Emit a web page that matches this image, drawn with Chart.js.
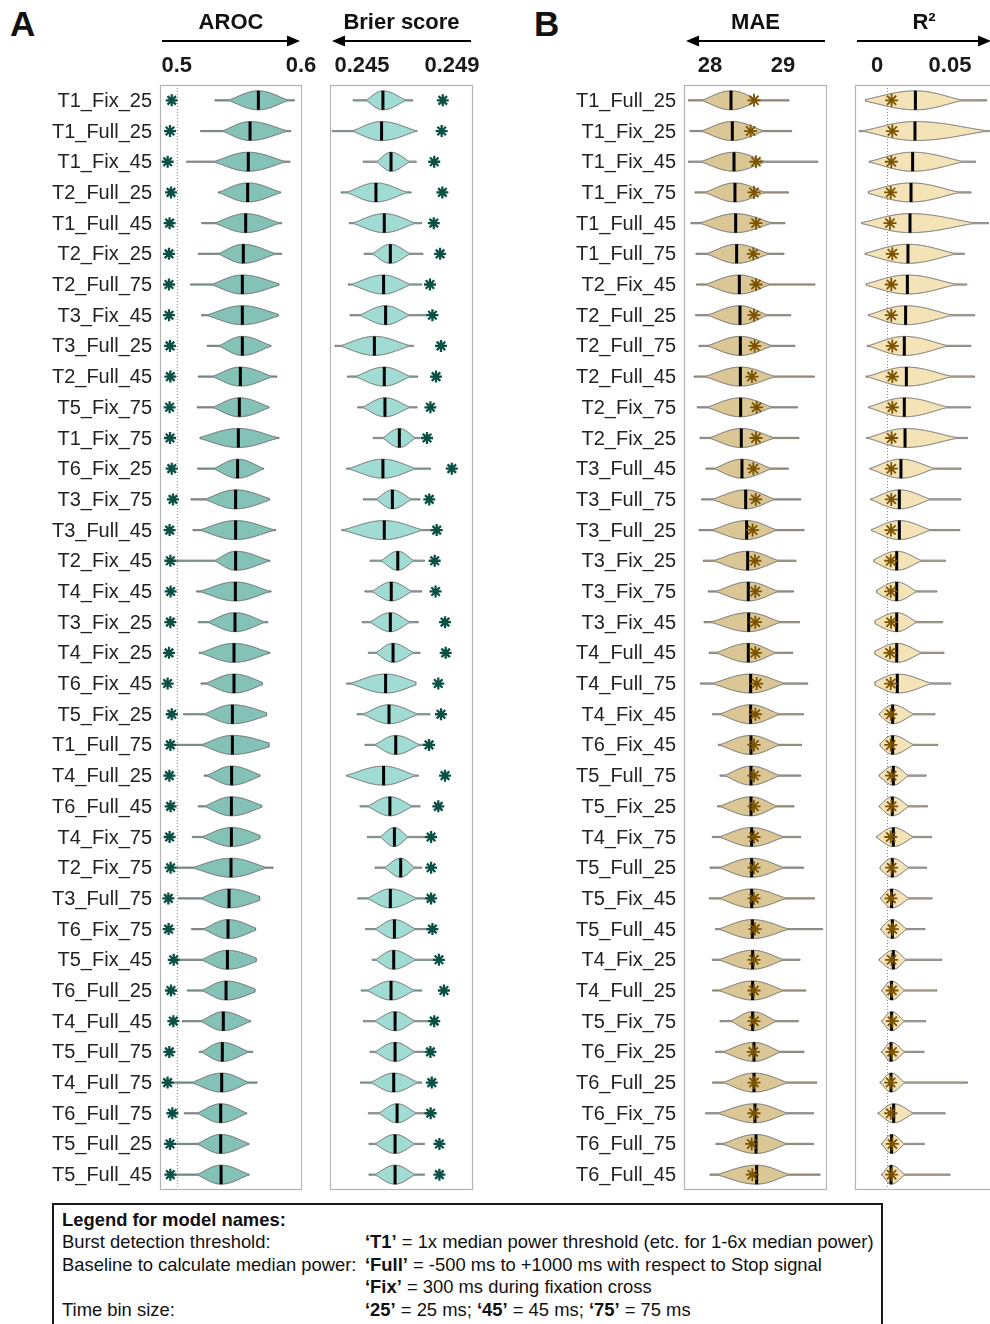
<!DOCTYPE html>
<html>
<head>
<meta charset="utf-8">
<script src="https://cdn.jsdelivr.net/npm/chart.js@4.4.1/dist/chart.umd.min.js"></script>
<style>
  body { margin: 0; background: #fff; }
  #page { position: relative; width: 990px; height: 1324px; overflow: hidden;
          font-family: 'Liberation Sans', Arial, sans-serif; color: #111; }
  canvas { position: absolute; top: 0; }
  .letter { position: absolute; top: 6px; font-weight: bold; font-size: 35px; line-height: 35px; }
  #legend { position: absolute; left: 52px; top: 1203px; width: 831px; height: 140px; box-sizing: border-box;
            border: 2px solid #1a1a1a; padding: 4px 8px; font-size: 18.4px; line-height: 22.4px; color: #111; }
  #legend .row { display: flex; white-space: nowrap; }
  #legend .k { width: 303px; flex: none; }
</style>
</head>
<body>
<div id="page">
  <div class="letter" style="left:10px">A</div>
  <div class="letter" style="left:534px">B</div>
  <canvas id="aroc" width="330" height="1195" style="left:0"></canvas>
  <canvas id="brier" width="175" height="1195" style="left:315px"></canvas>
  <canvas id="mae" width="345" height="1195" style="left:500px"></canvas>
  <canvas id="r2" width="160" height="1195" style="left:840px"></canvas>
  <div id="legend">
    <div class="row"><b>Legend for model names:</b></div>
    <div class="row"><span class="k">Burst detection threshold:</span><span><b>‘T1’</b> = 1x median power threshold (etc. for 1-6x median power)</span></div>
    <div class="row"><span class="k">Baseline to calculate median power:</span><span><b>‘Full’</b> = -500 ms to +1000 ms with respect to Stop signal</span></div>
    <div class="row"><span class="k"></span><span><b>‘Fix’</b> = 300 ms during fixation cross</span></div>
    <div class="row"><span class="k">Time bin size:</span><span><b>‘25’</b> = 25 ms; <b>‘45’</b> = 45 ms; <b>‘75’</b> = 75 ms</span></div>
  </div>
</div>
<script>
// ---- Panel A: classification models ----
const A_LABELS = ['T1_Fix_25','T1_Full_25','T1_Fix_45','T2_Full_25','T1_Full_45','T2_Fix_25','T2_Full_75','T3_Fix_45','T3_Full_25',
  'T2_Full_45','T5_Fix_75','T1_Fix_75','T6_Fix_25','T3_Fix_75','T3_Full_45','T2_Fix_45','T4_Fix_45','T3_Fix_25','T4_Fix_25',
  'T6_Fix_45','T5_Fix_25','T1_Full_75','T4_Full_25','T6_Full_45','T4_Fix_75','T2_Fix_75','T3_Full_75','T6_Fix_75','T5_Fix_45',
  'T6_Full_25','T4_Full_45','T5_Full_75','T4_Full_75','T6_Full_75','T5_Full_25','T5_Full_45'];

// AROC distribution: tail start, lower shoulder, median, upper shoulder, tail end, reference model (star)
const AROC_LO = [.5308,.5193,.5080,.5335,.5201,.5174,.5112,.5201,.5246,.5174,.5166,.5187,.5169,.5115,.5131,.5000,.5161,.5174,
  .5182,.5196,.5056,.5000,.5222,.5174,.5126,.5000,.5013,.5120,.5013,.5086,.5045,.5182,.4933,.5061,.4986,.4986];
const AROC_Q1 = [.5496,.5442,.5389,.5415,.5389,.5402,.5362,.5335,.5402,.5362,.5362,.5281,.5362,.5308,.5281,.5362,.5281,.5322,
  .5281,.5308,.5295,.5281,.5308,.5295,.5281,.5228,.5268,.5281,.5268,.5268,.5254,.5254,.5201,.5228,.5228,.5228];
const AROC_MED = [.5657,.5590,.5576,.5571,.5555,.5536,.5528,.5528,.5528,.5512,.5504,.5496,.5490,.5474,.5474,.5474,.5472,.5469,
  .5461,.5461,.5448,.5448,.5442,.5440,.5440,.5437,.5421,.5413,.5408,.5397,.5375,.5367,.5362,.5354,.5354,.5357];
const AROC_Q3 = [.5818,.5791,.5777,.5751,.5737,.5710,.5737,.5737,.5684,.5684,.5670,.5710,.5630,.5670,.5684,.5657,.5657,.5630,
  .5657,.5630,.5657,.5684,.5603,.5617,.5617,.5630,.5617,.5576,.5590,.5576,.5523,.5509,.5509,.5496,.5509,.5509];
const AROC_HI = [.5946,.5917,.5911,.5836,.5844,.5844,.5823,.5817,.5759,.5804,.5743,.5823,.5700,.5745,.5796,.5750,.5759,.5732,
  .5750,.5689,.5724,.5743,.5670,.5684,.5670,.5775,.5668,.5635,.5640,.5630,.5595,.5611,.5646,.5563,.5582,.5582];
const AROC_STAR = [.4960,.4946,.4927,.4954,.4943,.4938,.4938,.4938,.4946,.4949,.4943,.4946,.4960,.4970,.4943,.4949,.4951,.4949,
  .4938,.4927,.4960,.4949,.4941,.4951,.4943,.4951,.4933,.4935,.4976,.4954,.4973,.4941,.4927,.4965,.4946,.4949];
const AROC_TICKS = [0.5, 0.6];

const BRIER_LO = [.24461,.24368,.24506,.24407,.24444,.24510,.24439,.24447,.24380,.24436,.24481,.24550,.24432,.24506,.24410,.24536,
  .24513,.24501,.24528,.24432,.24478,.24513,.24432,.24491,.24524,.24558,.24481,.24516,.24546,.24496,.24506,.24536,.24494,.24528,.24531,.24531];
const BRIER_Q1 = [.24543,.24500,.24587,.24476,.24506,.24573,.24500,.24528,.24454,.24513,.24536,.24617,.24491,.24587,.24476,.24610,
  .24573,.24565,.24587,.24500,.24543,.24587,.24484,.24558,.24602,.24624,.24558,.24587,.24587,.24558,.24587,.24587,.24573,.24602,.24587,.24587];
const BRIER_MED = [.24593,.24587,.24629,.24562,.24599,.24626,.24596,.24605,.24555,.24599,.24602,.24666,.24593,.24635,.24599,.24659,
  .24630,.24626,.24638,.24605,.24620,.24650,.24596,.24624,.24644,.24672,.24626,.24644,.24641,.24629,.24647,.24647,.24641,.24656,.24647,.24647];
const BRIER_Q3 = [.24661,.24691,.24684,.24654,.24691,.24684,.24676,.24676,.24661,.24676,.24676,.24713,.24691,.24691,.24713,.24706,
  .24691,.24684,.24699,.24706,.24706,.24721,.24691,.24691,.24684,.24713,.24706,.24706,.24706,.24699,.24706,.24706,.24713,.24713,.24706,.24706];
const BRIER_HI = [.24725,.24744,.24741,.24718,.24765,.24771,.24765,.24787,.24728,.24747,.24744,.24758,.24804,.24758,.24810,.24777,
  .24765,.24750,.24758,.24740,.24802,.24795,.24750,.24758,.24780,.24765,.24795,.24802,.24824,.24765,.24810,.24773,.24765,.24810,.24777,.24777];
const BRIER_STAR = [.24859,.24854,.24821,.24857,.24819,.24847,.24802,.24813,.24851,.24829,.24804,.24789,.24899,.24799,.24832,.24823,
  .24827,.24869,.24872,.24839,.24851,.24798,.24869,.24839,.24807,.24807,.24807,.24813,.24842,.24864,.24821,.24804,.24810,.24805,.24844,.24844];
const BRIER_TICKS = [0.245, 0.249];

// ---- Panel B: regression models ----
const B_LABELS = ['T1_Full_25','T1_Fix_25','T1_Fix_45','T1_Fix_75','T1_Full_45','T1_Full_75','T2_Fix_45','T2_Full_25','T2_Full_75',
  'T2_Full_45','T2_Fix_75','T2_Fix_25','T3_Full_45','T3_Full_75','T3_Full_25','T3_Fix_25','T3_Fix_75','T3_Fix_45','T4_Full_45',
  'T4_Full_75','T4_Fix_45','T6_Fix_45','T5_Full_75','T5_Fix_25','T4_Fix_75','T5_Full_25','T5_Fix_45','T5_Full_45','T4_Fix_25',
  'T4_Full_25','T5_Fix_75','T6_Fix_25','T6_Full_25','T6_Fix_75','T6_Full_75','T6_Full_45'];

const MAE_LO = [27.703,27.726,27.703,27.795,27.740,27.808,27.817,27.804,27.849,27.785,27.826,27.863,27.945,27.886,27.849,27.909,27.977,27.918,
  27.991,27.872,28.037,28.114,28.137,28.105,28.032,28.000,27.991,28.078,28.032,28.037,28.137,28.078,28.037,27.941,28.082,28.000];
const MAE_Q1 = [28.023,28.023,28.023,28.068,28.023,28.091,28.091,28.114,28.114,28.091,28.114,28.137,28.183,28.183,28.183,28.205,28.228,28.183,
  28.228,28.205,28.274,28.274,28.320,28.274,28.274,28.274,28.274,28.274,28.274,28.274,28.388,28.320,28.320,28.274,28.320,28.274];
const MAE_MED = [28.288,28.306,28.329,28.342,28.352,28.365,28.402,28.411,28.416,28.416,28.420,28.429,28.438,28.489,28.502,28.516,28.525,28.530,
  28.525,28.557,28.557,28.562,28.562,28.562,28.571,28.571,28.571,28.580,28.584,28.584,28.584,28.603,28.603,28.616,28.630,28.639];
const MAE_Q3 = [28.548,28.594,28.616,28.616,28.685,28.662,28.685,28.662,28.708,28.731,28.708,28.731,28.708,28.753,28.776,28.799,28.799,28.822,
  28.776,28.868,28.822,28.822,28.822,28.799,28.868,28.868,28.890,28.913,28.868,28.868,28.799,28.845,28.913,28.913,28.913,28.936];
const MAE_HI = [29.082,29.119,29.475,29.073,29.027,29.014,29.438,29.105,29.164,29.429,29.196,29.219,29.073,29.242,29.288,29.178,29.142,29.224,
  29.132,29.338,29.279,29.256,29.242,29.151,29.242,29.279,29.429,29.543,29.233,29.311,29.210,29.288,29.461,29.416,29.416,29.507];
const MAE_STAR = [28.603,28.557,28.630,28.603,28.630,28.594,28.630,28.603,28.612,28.575,28.639,28.630,28.594,28.626,28.584,28.616,28.621,28.621,
  28.621,28.639,28.621,28.603,28.603,28.603,28.603,28.603,28.603,28.616,28.603,28.603,28.603,28.594,28.603,28.603,28.571,28.580];
const MAE_TICKS = [28, 29];

const R2_LO = [-.0078,-.0121,-.0053,-.0059,-.0105,-.0082,-.0075,-.0059,-.0066,-.0075,-.0057,-.0071,-.0048,-.0043,-.0037,-.0021,-.0002,-.0014,
  -.0014,-.0014,.0016,.0021,.0014,.0016,-.0002,.0021,.0025,.0027,.0014,.0032,.0032,.0030,.0021,.0007,.0032,.0032];
const R2_Q1 = [.0021,.0021,.0043,.0021,-.0002,.0009,.0009,.0021,.0021,.0021,.0021,.0021,.0021,.0021,.0021,.0021,.0032,.0021,
  .0021,.0021,.0043,.0043,.0043,.0043,.0032,.0043,.0048,.0048,.0043,.0055,.0055,.0055,.0048,.0043,.0055,.0055];
const R2_MED = [.0263,.0260,.0244,.0233,.0226,.0212,.0208,.0196,.0187,.0201,.0187,.0192,.0164,.0153,.0153,.0135,.0135,.0135,
  .0135,.0139,.0107,.0107,.0112,.0105,.0112,.0105,.0100,.0105,.0112,.0100,.0100,.0096,.0096,.0114,.0100,.0096];
const R2_Q3 = [.0477,.0591,.0477,.0454,.0523,.0432,.0432,.0409,.0386,.0409,.0386,.0432,.0317,.0295,.0295,.0249,.0226,.0226,
  .0249,.0295,.0203,.0203,.0180,.0180,.0203,.0180,.0180,.0169,.0169,.0158,.0158,.0158,.0158,.0203,.0158,.0158];
const R2_HI = [.0751,.0769,.0674,.0644,.0763,.0598,.0614,.0669,.0642,.0667,.0639,.0619,.0575,.0573,.0568,.0468,.0409,.0450,
  .0459,.0505,.0397,.0416,.0336,.0345,.0374,.0340,.0377,.0329,.0443,.0409,.0333,.0322,.0619,.0466,.0324,.0500];
const R2_STAR = [.0100,.0105,.0098,.0094,.0089,.0105,.0098,.0098,.0105,.0105,.0105,.0100,.0098,.0098,.0096,.0094,.0094,.0096,
  .0089,.0094,.0094,.0094,.0100,.0100,.0094,.0100,.0096,.0105,.0100,.0103,.0105,.0103,.0094,.0094,.0105,.0100];
const R2_TICKS = [0, 0.05];
const R2_REF = 0.0066;

const FONT = "'Liberation Sans', Arial, sans-serif";

const panels = [
  { id: 'aroc', title: 'AROC', arrow: 'right', labels: A_LABELS, showLabels: true, ticks: AROC_TICKS, ref: 0.5,
    lo: AROC_LO, q1: AROC_Q1, med: AROC_MED, q3: AROC_Q3, hi: AROC_HI, star: AROC_STAR,
    min: 0.48657, max: 0.6008, pad: { left: 160, right: 28 },
    fill: '#84c1b7', starColor: '#0b5045', starWidth: 2.3, starRadius: 6 },
  { id: 'brier', title: 'Brier score', arrow: 'left', labels: A_LABELS, showLabels: false, ticks: BRIER_TICKS, ref: null,
    lo: BRIER_LO, q1: BRIER_Q1, med: BRIER_MED, q3: BRIER_Q3, hi: BRIER_HI, star: BRIER_STAR,
    min: 0.243578, max: 0.249933, pad: { left: 15, right: 17 },
    fill: '#a0dcd3', starColor: '#0b5045', starWidth: 2.3, starRadius: 6 },
  { id: 'mae', title: 'MAE', arrow: 'left', labels: B_LABELS, showLabels: true, ticks: MAE_TICKS, ref: null,
    lo: MAE_LO, q1: MAE_Q1, med: MAE_MED, q3: MAE_Q3, hi: MAE_HI, star: MAE_STAR,
    min: 27.644, max: 29.603, pad: { left: 184, right: 18 },
    fill: '#dbc795', starColor: '#7b5300', starWidth: 1.8, starRadius: 6.5 },
  { id: 'r2', title: 'R²', arrow: 'right', labels: B_LABELS, showLabels: false, ticks: R2_TICKS, ref: R2_REF,
    lo: R2_LO, q1: R2_Q1, med: R2_MED, q3: R2_Q3, hi: R2_HI, star: R2_STAR,
    min: -0.01507, max: 0.07945, pad: { left: 15, right: 7 },
    fill: '#f5e3b8', starColor: '#7b5300', starWidth: 1.8, starRadius: 6.5 }
];

const HALF = 0.31; // violin half-height as share of a row
const SHOULDER = 0.45; // body taper reaching past the shoulders

function halfAt(px, p, H) {
  const t = 0.6;
  let s;
  if (px <= p.med) s = 1 - (p.med - px) / (Math.max(p.med - p.q1, 0.5) * (1 + SHOULDER));
  else s = 1 - (px - p.med) / (Math.max(p.q3 - p.med, 0.5) * (1 + SHOULDER));
  if (s <= 0) return t;
  const f = Math.pow(0.5 - 0.5 * Math.cos(Math.PI * s), 0.6);
  return t + (H - t) * f;
}

function panelPlugin(cfg) {
  return {
    id: 'panel_' + cfg.id,
    beforeDatasetsDraw(chart) {
      const { ctx, chartArea: a, scales: { x, y } } = chart;
      const H = (y.getPixelForValue(1) - y.getPixelForValue(0)) * HALF;
      ctx.save();
      // dotted reference line
      if (cfg.ref !== null) {
        const rx = Math.round(x.getPixelForValue(cfg.ref)) + 0.5;
        ctx.strokeStyle = '#8a8a8a';
        ctx.lineWidth = 1;
        ctx.setLineDash([1, 2]);
        ctx.beginPath();
        ctx.moveTo(rx, a.top);
        ctx.lineTo(rx, a.bottom);
        ctx.stroke();
        ctx.setLineDash([]);
      }
      // violins
      cfg.lo.forEach((lo, i) => {
        const cy = y.getPixelForValue(i);
        const p = {
          lo: x.getPixelForValue(lo), q1: x.getPixelForValue(cfg.q1[i]), med: x.getPixelForValue(cfg.med[i]),
          q3: x.getPixelForValue(cfg.q3[i]), hi: x.getPixelForValue(cfg.hi[i])
        };
        ctx.beginPath();
        for (let px = p.lo; px <= p.hi; px += 0.5) ctx.lineTo(px, cy - halfAt(px, p, H));
        ctx.lineTo(p.hi, cy - halfAt(p.hi, p, H));
        for (let px = p.hi; px >= p.lo; px -= 0.5) ctx.lineTo(px, cy + halfAt(px, p, H));
        ctx.lineTo(p.lo, cy + halfAt(p.lo, p, H));
        ctx.closePath();
        ctx.fillStyle = cfg.fill;
        ctx.fill();
        ctx.strokeStyle = '#666';
        ctx.lineWidth = 1;
        ctx.stroke();
      });
      ctx.restore();
    },
    afterDraw(chart) {
      const { ctx, chartArea: a, scales: { x, y } } = chart;
      ctx.save();
      // frame
      ctx.strokeStyle = '#b3b3b3';
      ctx.lineWidth = 1.2;
      ctx.strokeRect(a.left + 0.5, a.top + 0.5, a.right - a.left - 1, a.bottom - a.top - 1);
      // title
      ctx.fillStyle = '#111';
      ctx.textAlign = 'center';
      ctx.textBaseline = 'middle';
      ctx.font = 'bold 22px ' + FONT;
      ctx.fillText(cfg.title, (a.left + a.right) / 2, 23);
      // arrow
      const ay = 41, x0 = a.left + 2, x1 = a.right - 2;
      ctx.strokeStyle = '#000';
      ctx.lineWidth = 2;
      ctx.beginPath();
      if (cfg.arrow === 'right') { ctx.moveTo(x0, ay); ctx.lineTo(x1 - 10, ay); }
      else { ctx.moveTo(x0 + 10, ay); ctx.lineTo(x1, ay); }
      ctx.stroke();
      ctx.fillStyle = '#000';
      ctx.beginPath();
      if (cfg.arrow === 'right') { ctx.moveTo(x1, ay); ctx.lineTo(x1 - 13, ay - 5.5); ctx.lineTo(x1 - 13, ay + 5.5); }
      else { ctx.moveTo(x0, ay); ctx.lineTo(x0 + 13, ay - 5.5); ctx.lineTo(x0 + 13, ay + 5.5); }
      ctx.closePath();
      ctx.fill();
      // tick labels
      ctx.fillStyle = '#1a1a1a';
      ctx.font = 'bold 22px ' + FONT;
      cfg.ticks.forEach(t => ctx.fillText(String(t), x.getPixelForValue(t), 66));
      // row labels
      if (cfg.showLabels) {
        ctx.font = '20px ' + FONT;
        ctx.textAlign = 'right';
        ctx.fillStyle = '#222';
        cfg.labels.forEach((lab, i) => ctx.fillText(lab, a.left - 8, y.getPixelForValue(i) + 1));
      }
      ctx.restore();
    }
  };
}

panels.forEach(cfg => {
  const canvas = document.getElementById(cfg.id);
  const H = 1105 / 36 * HALF;
  new Chart(canvas, {
    type: 'scatter',
    data: {
      datasets: [
        {
          label: 'reference',
          data: cfg.star.map((v, i) => ({ x: v, y: cfg.labels[i] })),
          pointStyle: 'star',
          pointRadius: cfg.starRadius,
          borderWidth: cfg.starWidth,
          borderColor: cfg.starColor,
          backgroundColor: cfg.starColor
        },
        {
          label: 'median',
          data: cfg.med.map((v, i) => ({ x: v, y: cfg.labels[i] })),
          pointStyle: 'line',
          rotation: 90,
          pointRadius: H,
          borderWidth: 3,
          borderColor: '#000',
          backgroundColor: '#000'
        }
      ]
    },
    options: {
      responsive: false,
      animation: false,
      events: [],
      layout: { autoPadding: false, padding: { left: cfg.pad.left, right: cfg.pad.right, top: 85, bottom: 5 } },
      scales: {
        x: { type: 'linear', min: cfg.min, max: cfg.max, display: false },
        y: { type: 'category', labels: cfg.labels, offset: true, display: false }
      },
      plugins: { legend: { display: false }, tooltip: { enabled: false } }
    },
    plugins: [panelPlugin(cfg)]
  });
});
</script>
</body>
</html>
